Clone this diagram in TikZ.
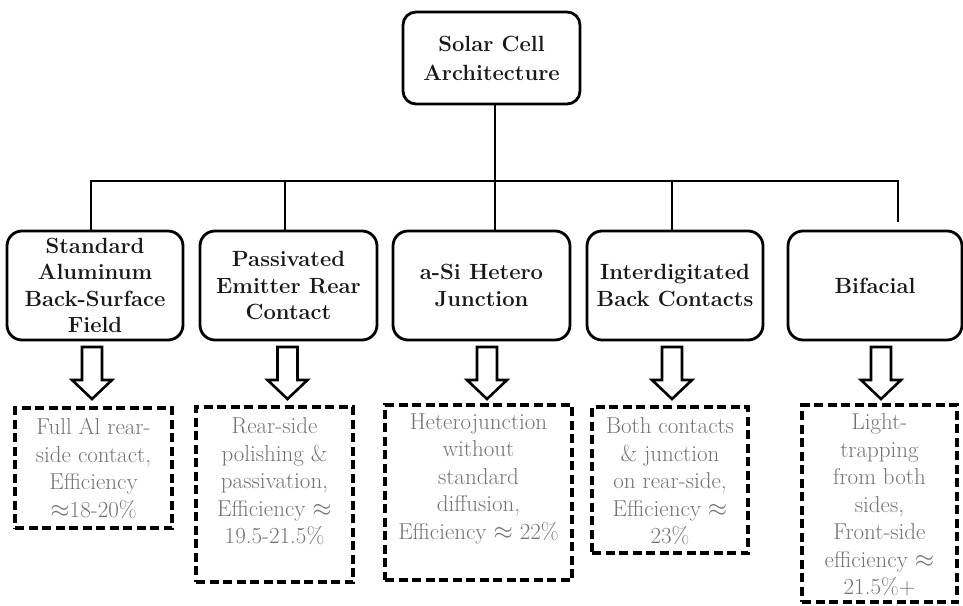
\documentclass[tikz,border=0pt]{standalone}
\usetikzlibrary{positioning}
\tikzset{
  x=1pt, y=-1pt,
  mainbox/.style={draw, line width=2.8pt, rounded corners=15pt, align=center, inner sep=0pt,
    font=\bfseries\fontsize{22}{26.5}\selectfont, text=black!90},
  dbox/.style={draw, line width=3.2pt, dash pattern=on 9pt off 4.5pt, inner sep=0pt},
  gtext/.style={align=center, inner sep=0pt, text=black!55,
    font=\fontsize{23}{27.5}\selectfont},
  conn/.style={line width=2.8pt},
  harrow/.pic={\draw[line width=2.6pt, line join=miter]
     (-10,0) -- (-10,33) -- (-20,33) -- (0,52) -- (20,33) -- (10,33) -- (10,0) -- cycle;}
}
\begin{document}
\begin{tikzpicture}
\useasboundingbox (0,0) rectangle (963,605);
% top
\node[mainbox, minimum width=177pt, minimum height=92pt, rounded corners=13pt,
  font=\bfseries\fontsize{22}{29}\selectfont] (top) at (491.5,58) {Solar Cell\\Architecture};
% second row
\node[mainbox, minimum width=176pt, minimum height=109pt] (b1) at (95,285.5) {Standard\\Aluminum\\Back-Surface\\Field};
\node[mainbox, minimum width=177pt, minimum height=109pt] (b2) at (288.5,285.5) {Passivated\\Emitter Rear\\Contact};
\node[mainbox, minimum width=177pt, minimum height=109pt] (b3) at (481.5,285.5) {a-Si Hetero\\Junction};
\node[mainbox, minimum width=176pt, minimum height=109pt] (b4) at (675,285.5) {Interdigitated\\Back Contacts};
\node[mainbox, minimum width=174pt, minimum height=109pt] (b5) at (875,285.5) {Bifacial};
% tree connectors
\coordinate (bar) at (495,181);
\coordinate (e5) at (898,222);
\draw[conn] (top.south -| bar) -- (bar);
\draw[conn] (b1.north -| 91,0) |- (e5 |- bar) -- (e5);
\draw[conn] (bar) -- (b3.north -| bar);
\draw[conn] (285,181) -- (b2.north -| 285,0);
\draw[conn] (672,181) -- (b4.north -| 672,0);
% dashed boxes
\node[dbox, minimum width=157pt, minimum height=120pt] (dA) at (93.5,468) {};
\node[dbox, minimum width=157pt, minimum height=175pt] (dB) at (274.5,494.5) {};
\node[dbox, minimum width=187pt, minimum height=175pt] (dC) at (478.5,492.5) {};
\node[dbox, minimum width=156pt, minimum height=146pt] (dD) at (670,480) {};
\node[dbox, minimum width=155pt, minimum height=197pt] (dE) at (879.5,503.5) {};
\node[gtext, below=12pt of dA.north] (tA) {Full Al rear-\\side contact,\\Efficiency\\$\approx$18-20\%};
\node[gtext, below=12pt of dB.north] (tB) {Rear-side\\polishing \&\\passivation,\\Efficiency $\approx$\\19.5-21.5\%};
\node[gtext, below=10pt of dC.north] (tC) {Heterojunction\\without\\standard\\diffusion,\\Efficiency $\approx$ 22\%};
\node[gtext, below=12pt of dD.north] (tD) {Both contacts\\\& junction\\on rear-side,\\Efficiency $\approx$\\23\%};
\node[gtext, below=10pt of dE.north] (tE) {Light-\\trapping\\from both\\sides,\\Front-side\\efficiency $\approx$\\21.5\%+};
% hollow arrows
\pic at (92,347) {harrow};
\pic at (287.5,347) {harrow};
\pic at (487,347) {harrow};
\pic at (672,347) {harrow};
\pic at (881,347) {harrow};
\end{tikzpicture}
\end{document}
